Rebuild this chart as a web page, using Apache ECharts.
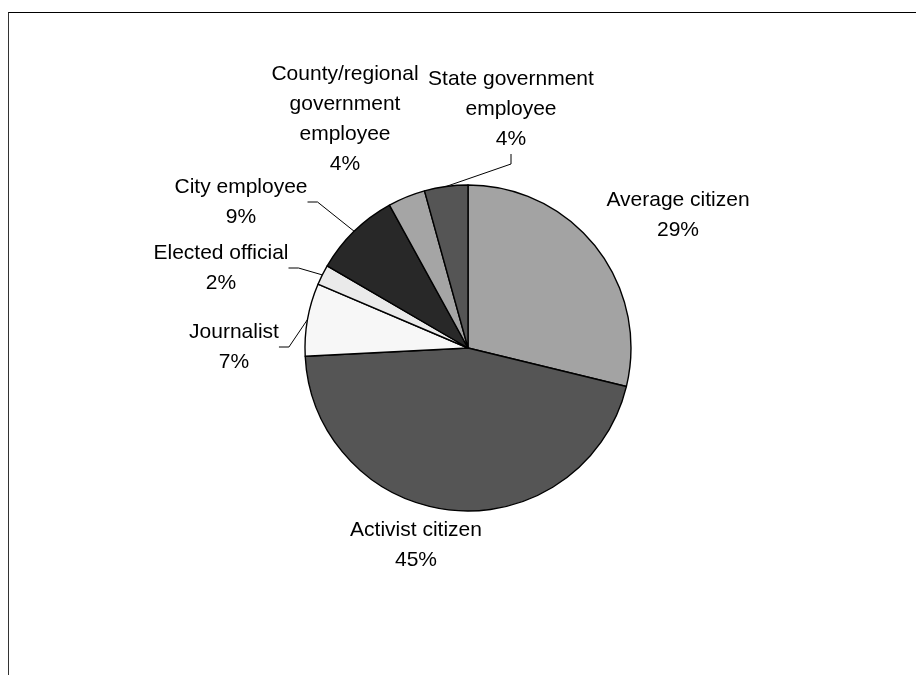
<!DOCTYPE html>
<html>
<head>
<meta charset="utf-8">
<script src="https://cdn.jsdelivr.net/npm/echarts@6/dist/echarts.min.js"></script>
<style>
html,body{margin:0;padding:0;background:#fff;}
#chart{position:absolute;left:0;top:0;width:916px;height:675px;}
#frame{position:absolute;left:8px;top:12px;width:920px;height:700px;border-top:1px solid #000;border-left:1px solid #333;pointer-events:none;}
</style>
</head>
<body>
<div id="chart"></div>
<div id="frame"></div>
<script>
const categories = [
  'Average citizen',
  'Activist citizen',
  'Journalist',
  'Elected official',
  'City employee',
  'County/regional\ngovernment\nemployee',
  'State government\nemployee'
];
const values = [28.8, 45.4, 7.2, 2.0, 8.6, 3.7, 4.3];
const sliceColors = ['#A3A3A3', '#555555', '#F7F7F7', '#EAEAEA', '#282828', '#A5A5A5', '#555555'];
const showLeader = [false, false, true, true, true, false, true];
const labelPos = [[678, 215], [416, 545], [234, 347], [221, 268], [241, 202], [345, 119], [511, 109]];

const chart = echarts.init(document.getElementById('chart'), null, {renderer: 'canvas'});
chart.setOption({
  animation: false,
  backgroundColor: '#fff',
  series: [{
    type: 'pie',
    center: [468, 348],
    radius: 163,
    startAngle: 90,
    clockwise: true,
    avoidLabelOverlap: false,
    itemStyle: {borderColor: '#000', borderWidth: 1.4},
    label: {
      show: true,
      position: 'outside',
      color: '#000',
      fontFamily: 'Liberation Sans, Arial, sans-serif',
      fontSize: 21,
      lineHeight: 30,
      align: 'center',
      formatter: p => p.name + '\n' + Math.round(p.percent) + '%'
    },
    labelLine: {lineStyle: {color: '#000', width: 1}, length: 10, length2: 10},
    labelLayout: function (params) {
      const p = labelPos[params.dataIndex];
      return {x: p[0], y: p[1], align: 'center', verticalAlign: 'middle'};
    },
    data: categories.map((c, i) => ({
      name: c,
      value: values[i],
      itemStyle: {color: sliceColors[i]},
      labelLine: {show: showLeader[i]}
    }))
  }]
});
</script>
</body>
</html>
